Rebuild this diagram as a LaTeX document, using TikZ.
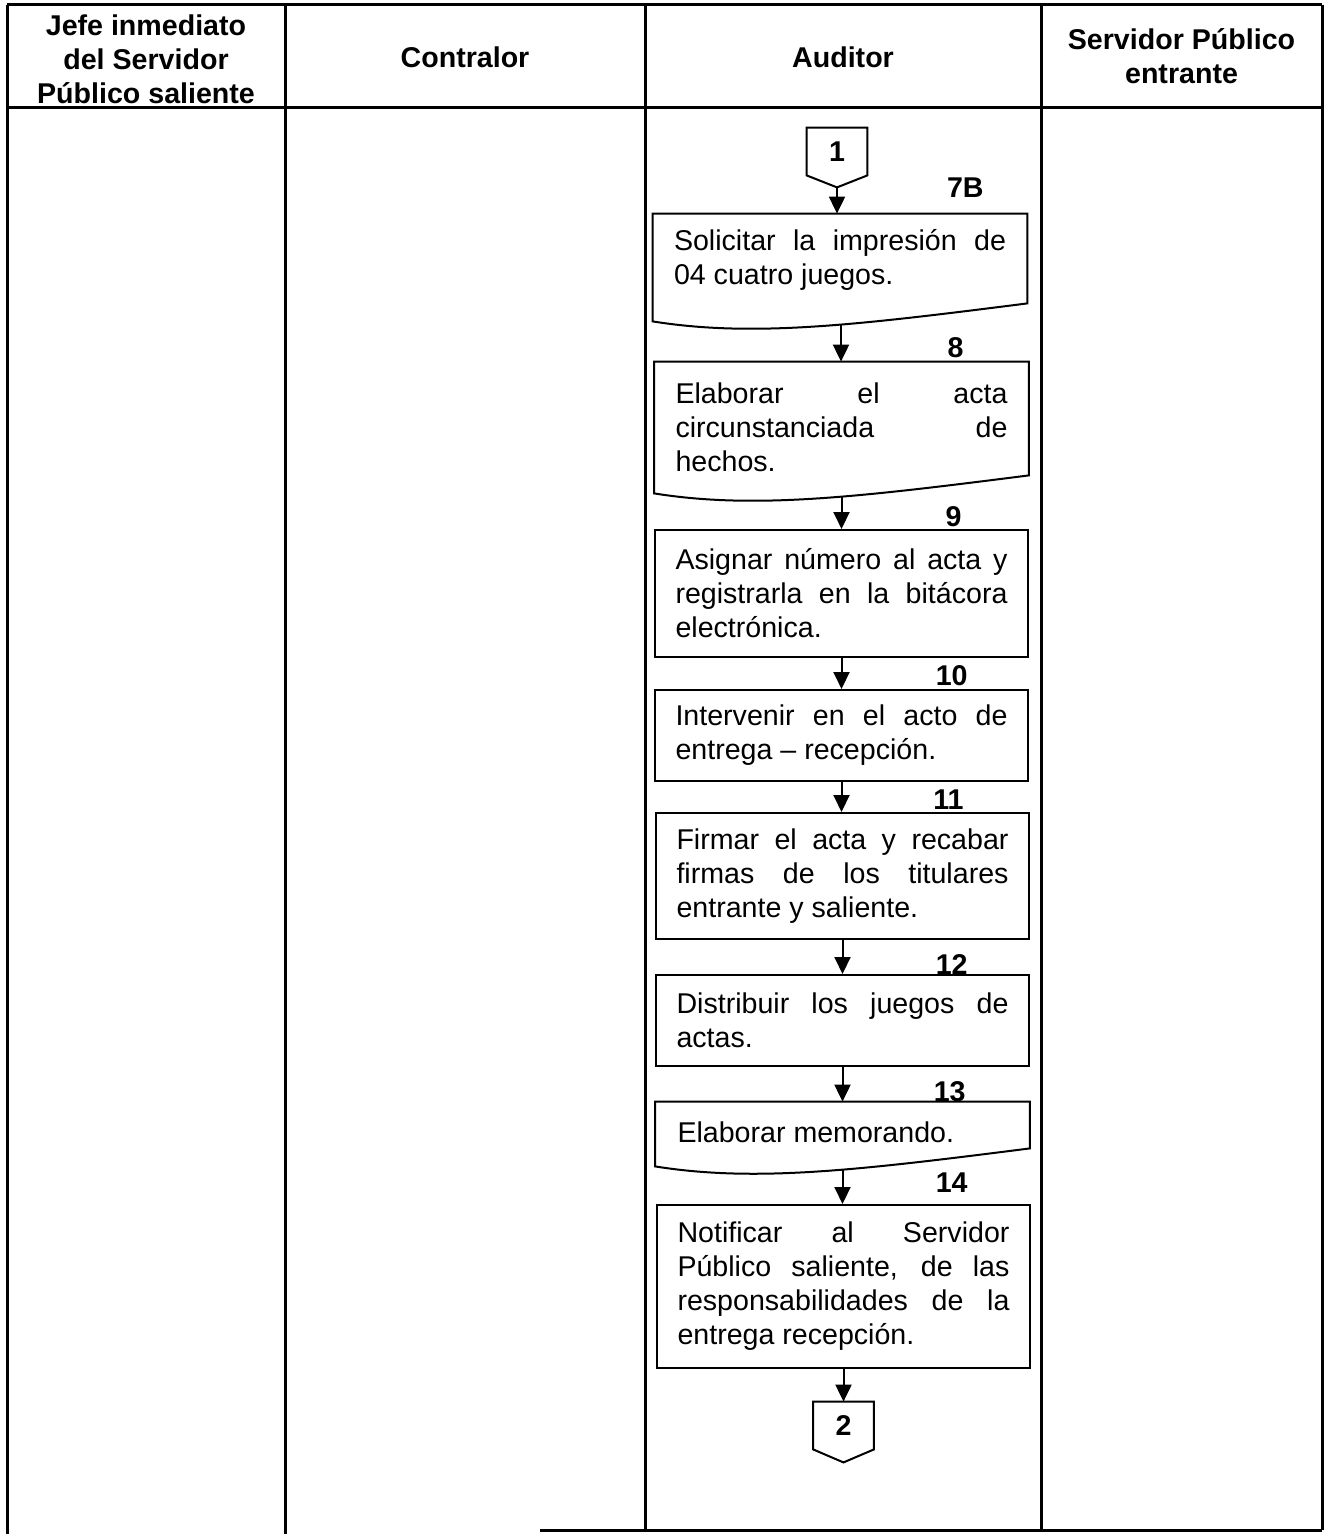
\documentclass[tikz,border=0pt]{standalone}
\usepackage{fontspec}
\setmainfont{Liberation Sans}
\usetikzlibrary{arrows.meta,calc}

\newcommand{\bodyfont}{\fontsize{14.3pt}{17pt}\selectfont\tolerance=10000\hbadness=10000\hyphenpenalty=10000}

\tikzset{
  grid/.style={line width=1.5pt},
  hdr/.style={font=\bodyfont\bfseries, align=center, inner sep=0pt},
  num/.style={font=\bodyfont\bfseries, inner sep=0pt, anchor=east},
  txt/.style={font=\bodyfont, text width=166pt, align=justify, inner sep=0pt},
  procbox/.style={draw, line width=1pt, font=\bodyfont, text width=166pt,
    align=justify, inner xsep=10.25pt, inner ysep=0pt, minimum width=186.5pt},
  docbox/.style={inner sep=0pt, minimum width=187pt},
  linkbox/.style={inner sep=0pt, minimum width=30pt, minimum height=23.5pt,
    font=\bodyfont\bfseries},
  outline/.style={line width=1pt, line join=miter},
  flow/.style={line width=1pt, -{Triangle[length=8.5pt,width=8pt]}},
}

\begin{document}
\begin{tikzpicture}[x=0.5pt, y=-0.5pt]
\useasboundingbox (0,0) rectangle (1325,1534);

% swimlane table
\draw[grid] (7,5) -- (1322,5);
\draw[grid] (7,108) -- (1322,108);
\draw[grid] (7,5) -- (7,1534);
\draw[grid] (285,5) -- (285,1534);
\draw[grid] (645,5) -- (645,1530);
\draw[grid] (1041,5) -- (1041,1530);
\draw[grid] (1322,5) -- (1322,1530);
\draw[grid] (540,1530) -- (1322,1530);

% lane headings
\node[hdr] (h1) at (146,59) {Jefe inmediato\\del Servidor\\Público saliente};
\node[hdr] (h2) at (465,57) {Contralor};
\node[hdr] (h3) at (843,57) {Auditor};
\node[hdr] (h4) at (1181.5,56.5) {Servidor Público\\entrante};

% step numbers
\node[num] (n7)  at (984,188)  {7B};
\node[num] (n8)  at (964,348)  {8};
\node[num] (n9)  at (962,517)  {9};
\node[num] (n10) at (968,676)  {10};
\node[num] (n11) at (964,800)  {11};
\node[num] (n12) at (968,965)  {12};
\node[num] (n13) at (966,1092) {13};
\node[num] (n14) at (968,1183) {14};

% off-page connector 1
\node[linkbox] (c1) at (837,151.5) {1};
\coordinate (c1tip) at ($(c1.south)+(0,12)$);
\draw[outline] (c1.north west) -- (c1.north east) -- (c1.south east)
  -- (c1tip) -- (c1.south west) -- cycle;

% document 7B
\node[docbox, minimum height=44.5pt] (d7) at (840,258.5) {};
\draw[outline] (d7.north west) -- (d7.north east) -- (d7.south east)
  .. controls ($(d7.south east)+(-173,22)$) and ($(d7.south west)+(100,34)$)
  .. ($(d7.south west)+(0,18)$) -- cycle;
\node[txt] (t7) at (840,260) {Solicitar la impresión de\linebreak 04 cuatro juegos.};
\coordinate (d7w) at ($(d7.south)+(1,21)$);

% document 8
\node[docbox, minimum height=56.5pt] (d8) at (841.5,418.5) {};
\draw[outline] (d8.north west) -- (d8.north east) -- (d8.south east)
  .. controls ($(d8.south east)+(-173,22)$) and ($(d8.south west)+(100,34)$)
  .. ($(d8.south west)+(0,18)$) -- cycle;
\node[txt] (t8) at (841.5,427) {Elaborar el acta\linebreak circunstanciada de\linebreak hechos.};
\coordinate (d8w) at ($(d8.south)+(0,21)$);

% process steps
\node[procbox, minimum height=63.5pt] (b9) at (841.5,593.5)
  {Asignar número al acta y\linebreak registrarla en la bitácora\linebreak electrónica.};
\node[procbox, minimum height=45.5pt] (b10) at (841.5,735.5)
  {Intervenir en el acto de\linebreak entrega – recepción.};
\node[procbox, minimum height=63pt] (b11) at (842.5,876)
  {Firmar el acta y recabar\linebreak firmas de los titulares\linebreak entrante y saliente.};
\node[procbox, minimum height=45.5pt] (b12) at (842.5,1020.5)
  {Distribuir los juegos de\linebreak actas.};

% document 13
\node[docbox, minimum height=23pt] (d13) at (842.5,1125) {};
\draw[outline] (d13.north west) -- (d13.north east) -- (d13.south east)
  .. controls ($(d13.south east)+(-173,22)$) and ($(d13.south west)+(100,34)$)
  .. ($(d13.south west)+(0,18)$) -- cycle;
\node[txt] (t13) at (843.5,1132) {Elaborar memorando.};
\coordinate (d13w) at ($(d13.south)+(0,21)$);

\node[procbox, minimum height=81.5pt] (b14) at (843.5,1286.5)
  {Notificar al Servidor\linebreak Público saliente, de las\linebreak responsabilidades de la\linebreak entrega recepción.};

% off-page connector 2
\node[linkbox] (c2) at (843.5,1425.5) {2};
\coordinate (c2tip) at ($(c2.south)+(0,13)$);
\draw[outline] (c2.north west) -- (c2.north east) -- (c2.south east)
  -- (c2tip) -- (c2.south west) -- cycle;

% flow arrows
\draw[flow] (c1tip) -- (c1tip |- d7.north);
\draw[flow] (d7w) -- (d7w |- d8.north);
\draw[flow] (d8w) -- (d8w |- b9.north);
\draw[flow] (b9.south) -- (b9.south |- b10.north);
\draw[flow] (b10.south) -- (b10.south |- b11.north);
\draw[flow] (b11.south) -- (b11.south |- b12.north);
\draw[flow] (b12.south) -- (b12.south |- d13.north);
\draw[flow] (d13w) -- (d13w |- b14.north);
\draw[flow] (b14.south) -- (b14.south |- c2.north);
\end{tikzpicture}
\end{document}
